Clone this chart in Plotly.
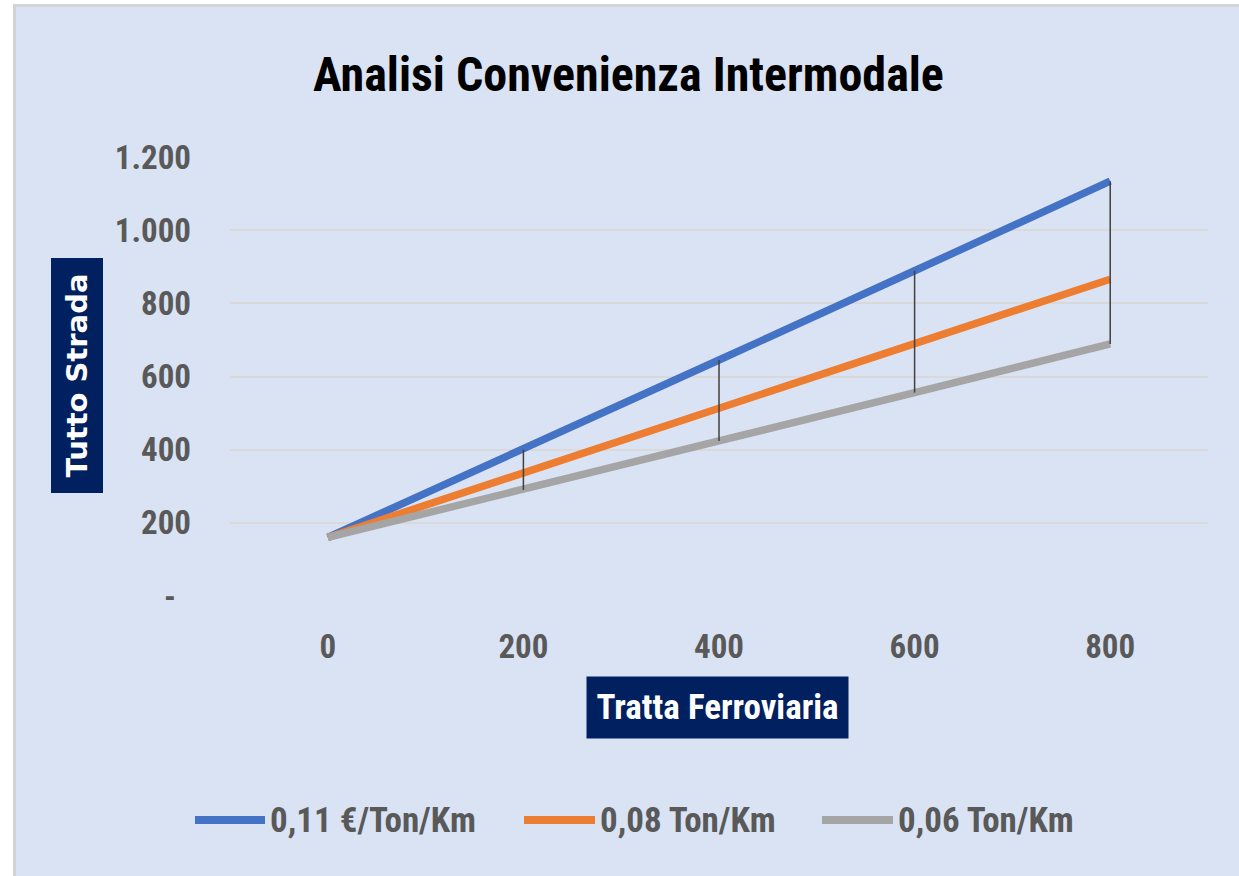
import plotly.graph_objects as go

# ---- data ----
distances = [0, 200, 400, 600, 800]
series_names = ["0,11 €/Ton/Km", "0,08 Ton/Km", "0,06 Ton/Km"]
blue_vals = [160, 400, 645, 889, 1134]
orange_vals = [160, 338, 512, 690, 866]
gray_vals = [160, 290, 424, 556, 689]
y_tickvals = [0, 200, 400, 600, 800, 1000, 1200]
y_ticktext = ["-\u00a0\u00a0", "200", "400", "600", "800", "1.000", "1.200"]
x_ticktext = ["0", "200", "400", "600", "800"]

colors = ["#4472C4", "#ED7D31", "#A5A5A5"]
series_vals = [blue_vals, orange_vals, gray_vals]

W, H = 1239, 876
L, R, T, B = 230, 1208, 157, 596  # plot area pixel bounds

def px(p):
    return (p - L) / (R - L)

def py(q):
    return (B - q) / (B - T)

NARROW = "Liberation Sans Narrow, Arial Narrow, Roboto Condensed, Liberation Sans, sans-serif"
TXT = "#595959"

fig = go.Figure()
for name, vals, c in zip(series_names, series_vals, colors):
    fig.add_trace(go.Scatter(x=distances, y=vals, mode="lines", name=name,
                             line=dict(color=c, width=7.5), showlegend=False,
                             hoverinfo="x+y"))

# high-low drop lines built from the data
dx, dy = [], []
for i, x in enumerate(distances):
    vs = [s[i] for s in series_vals]
    dx += [x, x, None]
    dy += [max(vs), min(vs), None]
fig.add_trace(go.Scatter(x=dx, y=dy, mode="lines", line=dict(color="#404040", width=1.5),
                         showlegend=False, hoverinfo="skip"))

shapes = [
    dict(type="rect", xref="paper", yref="paper", layer="below",
         x0=px(13), x1=px(W), y0=py(H), y1=py(4),
         fillcolor="#DAE3F3", line=dict(width=0)),
    dict(type="line", xref="paper", yref="paper", layer="below",
         x0=px(14.5), x1=px(14.5), y0=py(H), y1=py(4),
         line=dict(color="#D4D4D4", width=3)),
    dict(type="line", xref="paper", yref="paper", layer="below",
         x0=px(13), x1=px(W), y0=py(5.5), y1=py(5.5),
         line=dict(color="#D4D4D4", width=3)),
]

annotations = [
    dict(text="<b>Analisi Convenienza Intermodale</b>", xref="paper", yref="paper",
         x=px(628), y=py(75), xanchor="center", yanchor="middle", showarrow=False,
         font=dict(family=NARROW, size=48, color="#000000")),
    dict(text="<b>Tutto Strada</b>", xref="paper", yref="paper", textangle=-90,
         x=px(76.5), y=py(376), xanchor="center", yanchor="middle", showarrow=False,
         bgcolor="#002060", width=234, height=51, borderpad=0,
         font=dict(family="DejaVu Sans, Verdana, sans-serif", size=29, color="#FFFFFF")),
    dict(text="<b>Tratta Ferroviaria</b>", xref="paper", yref="paper",
         x=px(717.5), y=py(707.5), xanchor="center", yanchor="middle", showarrow=False,
         bgcolor="#002060", width=261, height=61, borderpad=0,
         font=dict(family=NARROW, size=35, color="#FFFFFF")),
]

legend_line_x = [(195, 265), (524, 595), (822, 893)]
legend_y = 820
for (x0, x1), name, c in zip(legend_line_x, series_names, colors):
    shapes.append(dict(type="line", xref="paper", yref="paper",
                       x0=px(x0), x1=px(x1), y0=py(legend_y), y1=py(legend_y),
                       line=dict(color=c, width=8)))
    annotations.append(dict(text="<b>" + name + "</b>", xref="paper", yref="paper",
                            x=px(x1 + 3), y=py(legend_y), xanchor="left", yanchor="middle",
                            showarrow=False, font=dict(family=NARROW, size=35, color=TXT)))

fig.update_layout(
    width=W, height=H,
    margin=dict(l=L, r=W - R, t=T, b=H - B, pad=0),
    paper_bgcolor="#FFFFFF",
    plot_bgcolor="rgba(0,0,0,0)",
    shapes=shapes,
    annotations=annotations,
    showlegend=False,
    xaxis=dict(range=[-100, 900], tickvals=distances, ticktext=x_ticktext,
               showgrid=False, zeroline=False, showline=False, ticks="",
               ticklabelstandoff=28,
               tickfont=dict(family=NARROW, size=33, color=TXT, weight="bold")),
    yaxis=dict(range=[0, 1200], tickvals=y_tickvals, ticktext=y_ticktext,
               showgrid=True, gridcolor="#D9D9D9", gridwidth=1.5,
               zeroline=False, showline=False, ticks="",
               ticklabelstandoff=38,
               tickfont=dict(family=NARROW, size=33, color=TXT, weight="bold")),
)

fig.write_html("out.html", config={"displayModeBar": False},
               post_script="document.body.style.margin='0px';document.body.style.overflow='hidden';")
